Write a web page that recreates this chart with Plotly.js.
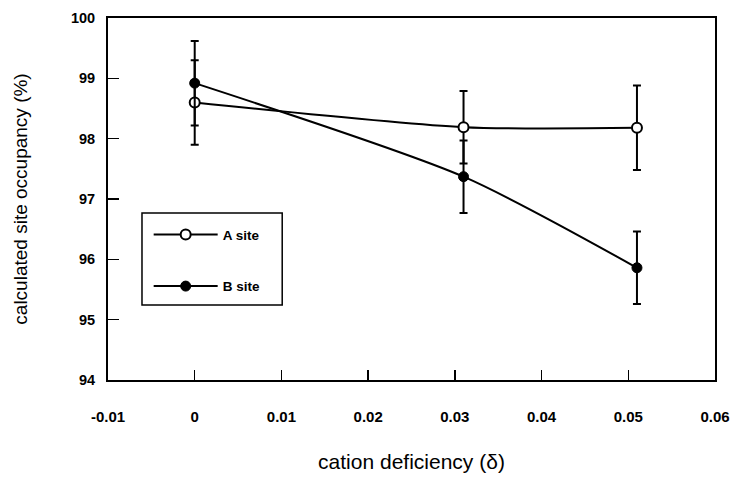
<!DOCTYPE html>
<html><head><meta charset="utf-8">
<script src="https://cdn.plot.ly/plotly-3.0.1.min.js"></script>
<style>html,body{margin:0;padding:0;background:#fff}#chart{width:731px;height:478px}</style>
</head><body><div id="chart"></div>
<script>
var delta = [0, 0.031, 0.051];
var aSite = [98.6, 98.19, 98.18];
var aErr = [0.7, 0.6, 0.7];
var bSite = [98.92, 97.37, 95.86];
var bErr = [0.7, 0.6, 0.6];
var seriesNames = ['A site', 'B site'];
var xTicks = [-0.01, 0, 0.01, 0.02, 0.03, 0.04, 0.05, 0.06];
var xTickText = ['-0.01', '0', '0.01', '0.02', '0.03', '0.04', '0.05', '0.06'];
var yTicks = [94, 95, 96, 97, 98, 99, 100];

var FONT = 'Liberation Sans, Arial, Helvetica, sans-serif';
var traces = [
  {x: delta, y: aSite, name: seriesNames[0], legendgroup: 'a', type: 'scatter', mode: 'lines+markers',
   line: {color: '#000', width: 2, shape: 'spline', smoothing: 0.7},
   marker: {symbol: 'circle', size: 10, color: '#fff', line: {color: '#000', width: 2}},
   error_y: {type: 'data', array: aErr, visible: true, color: '#000', thickness: 2, width: 4}},
  {x: delta, y: bSite, name: seriesNames[1], legendgroup: 'b', type: 'scatter', mode: 'lines+markers',
   line: {color: '#000', width: 2, shape: 'spline', smoothing: 0.7},
   marker: {symbol: 'circle', size: 10, color: '#000', line: {color: '#000', width: 1}},
   error_y: {type: 'data', array: bErr, visible: true, color: '#000', thickness: 2, width: 4}}
];
var layout = {
  width: 731, height: 478,
  margin: {l: 108, r: 16, t: 18, b: 98},
  paper_bgcolor: '#fff', plot_bgcolor: '#fff',
  font: {family: FONT, color: '#000'},
  showlegend: true,
  legend: {x: 0.067, y: 0.444, xanchor: 'left', yanchor: 'top', bgcolor: 'rgba(0,0,0,0)',
    borderwidth: 0, tracegroupgap: 31, traceorder: 'grouped', itemwidth: 64,
    font: {family: FONT, size: 13.5, weight: 'bold', color: '#000'}},
  shapes: [{type: 'rect', xref: 'paper', yref: 'paper', x0: 0.056, x1: 0.287, y0: 0.207, y1: 0.461,
    line: {color: '#000', width: 1.5}}],
  xaxis: {range: [-0.01, 0.06], tickvals: xTicks, ticktext: xTickText, ticks: 'inside', ticklen: 10, tickwidth: 1.5,
    tickcolor: '#000', showline: true, linewidth: 2, linecolor: '#000', mirror: true, showgrid: false, zeroline: false,
    ticklabelstandoff: 22,
    tickfont: {family: FONT, size: 15, weight: 'bold'},
    title: {text: 'cation deficiency (\u03b4)', font: {family: FONT, size: 21}, standoff: 30}},
  yaxis: {range: [94, 100], tickvals: yTicks, ticks: 'inside', ticklen: 11, tickwidth: 1.5,
    tickcolor: '#000', showline: true, linewidth: 2, linecolor: '#000', mirror: true, showgrid: false, zeroline: false,
    ticklabelstandoff: 8,
    tickfont: {family: FONT, size: 14.5, weight: 'bold'},
    title: {text: 'calculated site occupancy (%)', font: {family: FONT, size: 19}, standoff: 38}}
};
Plotly.newPlot('chart', traces, layout, {displayModeBar: false, staticPlot: true});
</script></body></html>
